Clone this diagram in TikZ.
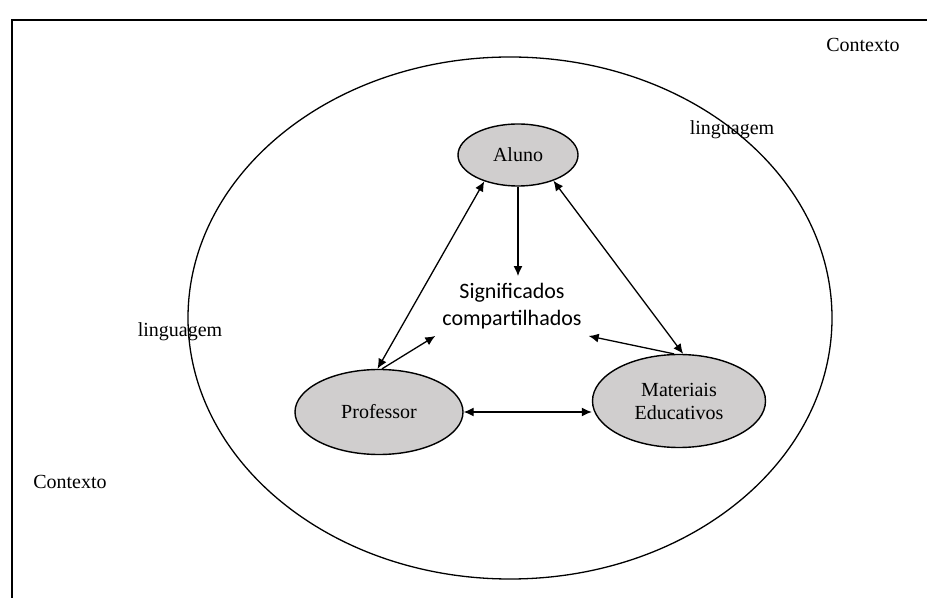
\documentclass[tikz,border=0pt]{standalone}
\usepackage{fontspec}
\setmainfont{Liberation Serif}
\newfontfamily\calibrifont{Carlito}
\usepackage{xcolor}
\usetikzlibrary{shapes.geometric, arrows.meta}
\definecolor{nodegray}{HTML}{D0CECE}

\begin{document}
\begin{tikzpicture}[x=0.5pt, y=-0.5pt, auto]
    % Define the style for the nodes
    \tikzstyle{main} = [ellipse, draw, line width=0.7pt, fill=nodegray, inner sep=0pt, align=center, font=\fontsize{10}{11.5}\selectfont]
    \tikzstyle{label} = [font=\fontsize{10}{12}\selectfont]
    \tikzstyle{line} = [draw, -{Latex[length=5pt, width=4.5pt]}, line width=0.65pt]
    \tikzstyle{both} = [draw, {Latex[length=5pt, width=4.5pt]}-{Latex[length=5pt, width=4.5pt]}, line width=0.65pt]

    \useasboundingbox (0,0) rectangle (927,598);

    % Frame and context
    \draw [line width=1pt] (12,598) -- (12,20) -- (927,20);
    \node [ellipse, draw, line width=0.65pt, minimum width=322pt, minimum height=261pt] (ctx) at (510,318) {};
    \node [label] (ctxtop) at (863,45) {Contexto};
    \node [label] (ctxbot) at (70,482) {Contexto};
    \node [label] (langleft) at (180,332) {linguagem};
    \node [label] (langright) at (732,130) {linguagem};

    % Place the nodes
    \node [main, minimum width=60pt, minimum height=31pt] (aluno) at (518,155) {Aluno};
    \node [main, minimum width=84pt, minimum height=42.5pt] (prof) at (379,412) {Professor};
    \node [main, minimum width=86.5pt, minimum height=46.5pt] (mat) at (679,401) {Materiais\\Educativos};
    \node [align=center, font=\calibrifont\fontsize{11}{13.5}\selectfont] (signif) at (512,306) {Significados\\compartilhados};

    % Connect the nodes with paths
    \path [line] (aluno.south) -- (aluno.south |- signif.north);
    \path [both] (aluno.218) -- (prof.92);
    \path [both] (aluno.-36) -- (mat.85);
    \path [line] (prof.86) -- (signif.south west);
    \path [line] (mat.96) -- (signif.south east);
    \path [both] (prof.east) -- (prof.east -| mat.west);

\end{tikzpicture}
\end{document}
